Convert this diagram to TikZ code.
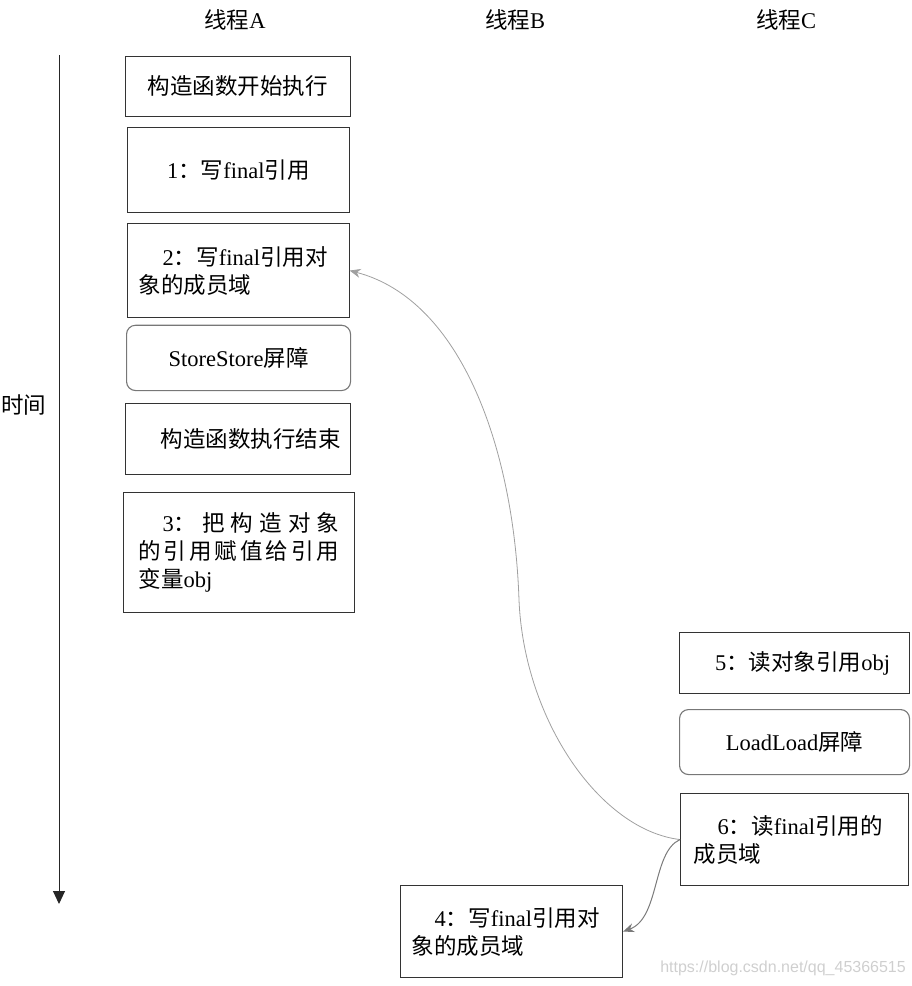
\documentclass[tikz,border=0pt]{standalone}
\usepackage{fontspec}
\setmainfont{Liberation Serif}
\newfontfamily\cjk{Noto Sans CJK SC}
\newfontfamily\wmfont{Liberation Sans}
\usetikzlibrary{arrows.meta}
\newcommand\C[1]{{\cjk #1}}
\definecolor{boxline}{HTML}{333333}
\definecolor{rline}{HTML}{777777}
\definecolor{arrA}{HTML}{A0A0A0}
\definecolor{arrB}{HTML}{7A7A7A}
\definecolor{wm}{HTML}{CFCFCF}
\begin{document}
\begin{tikzpicture}[x=1pt,y=-1pt,
  every node/.style={font=\fontsize{22.5}{28}\selectfont},
  box/.style={draw=boxline, line width=1.1pt, anchor=north west, inner xsep=4pt, inner ysep=0pt},
  rbox/.style={box, draw=rline, rounded corners=9pt},
  mbox/.style={box, align=left},
  title/.style={inner sep=0pt},
  conA/.style={draw=arrA, line width=0.8pt, -{Stealth[length=11pt,width=9pt]}},
  conB/.style={draw=arrB, line width=1pt, -{Stealth[length=11pt,width=9pt]}},
  axis/.style={draw=black!85, line width=1pt, -{Triangle[width=12pt,length=13pt]}}
]
\useasboundingbox (0,0) rectangle (911,986);
\clip (0,0) rectangle (911,986);

% titles
\node[title] (tA) at (235,20) {\C{线程}A};
\node[title] (tB) at (515,20) {\C{线程}B};
\node[title] (tC) at (786,20) {\C{线程}C};

% time axis
\coordinate (tTop) at (59,55);
\coordinate (tBot) at (59,904);
\draw[axis] (tTop) -- (tBot);
\node[title, anchor=west] (time) at (1,405) {\C{时间}};

% thread A
\node[box, minimum width=225.3pt, minimum height=60.3pt] (a0) at (124.7,55.7) {\C{构造函数开始执行}};
\node[box, minimum width=221.5pt, minimum height=85pt] (a1) at (127,127) {1\C{：写}final\C{引用}};
\node[mbox, inner xsep=11pt, text width=199.5pt, minimum height=94pt] (a2) at (127,223)
  {\noindent\hspace*{24pt}2\C{：写}final\C{引用对}\\\C{象的成员域}};
\node[rbox, minimum width=224pt, minimum height=65.3pt] (a3) at (126,324.7) {StoreStore\C{屏障}};
\node[box, minimum width=225.3pt, minimum height=70.7pt] (a4) at (124.7,403) {\hspace*{26pt}\C{构造函数执行结束}};
\node[mbox, inner xsep=15pt, text width=200.7pt, minimum height=120.3pt] (a5) at (123,491.7)
  {\noindent\hspace*{24pt}3\C{：}\hfill\C{把}\hfill\C{构}\hfill\C{造}\hfill\C{对}\hfill\C{象}\\
   \C{的}\hfill\C{引}\hfill\C{用}\hfill\C{赋}\hfill\C{值}\hfill\C{给}\hfill\C{引}\hfill\C{用}\\
   \C{变量}obj};

% thread C
\node[box, minimum width=230pt, minimum height=60.7pt] (c5) at (679,632) {\hspace*{16pt}5\C{：读对象引用}obj};
\node[rbox, minimum width=230pt, minimum height=65pt] (cl) at (679,709) {LoadLoad\C{屏障}};
\node[mbox, inner xsep=13pt, text width=202pt, minimum height=92pt] (c6) at (680,793)
  {\noindent\hspace*{24pt}6\C{：读}final\C{引用的}\\\C{成员域}};

% thread B
\node[mbox, inner xsep=11pt, text width=200pt, minimum height=92pt] (b4) at (400,885)
  {\noindent\hspace*{23pt}4\C{：写}final\C{引用对}\\\C{象的成员域}};

% connectors
\draw[conA] (c6.west) .. controls (600,830) and (524,720) .. (519,600)
            .. controls (514,450) and (462,300) .. (a2.east);
\draw[conB] (c6.west) .. controls (652,852) and (660,918) .. (b4.east);

% watermark
\node[anchor=east, inner sep=0pt, text=wm, font=\wmfont\fontsize{16}{18}\selectfont] (wmk) at (906,968) {https://blog.csdn.net/qq\_45366515};
\end{tikzpicture}
\end{document}
